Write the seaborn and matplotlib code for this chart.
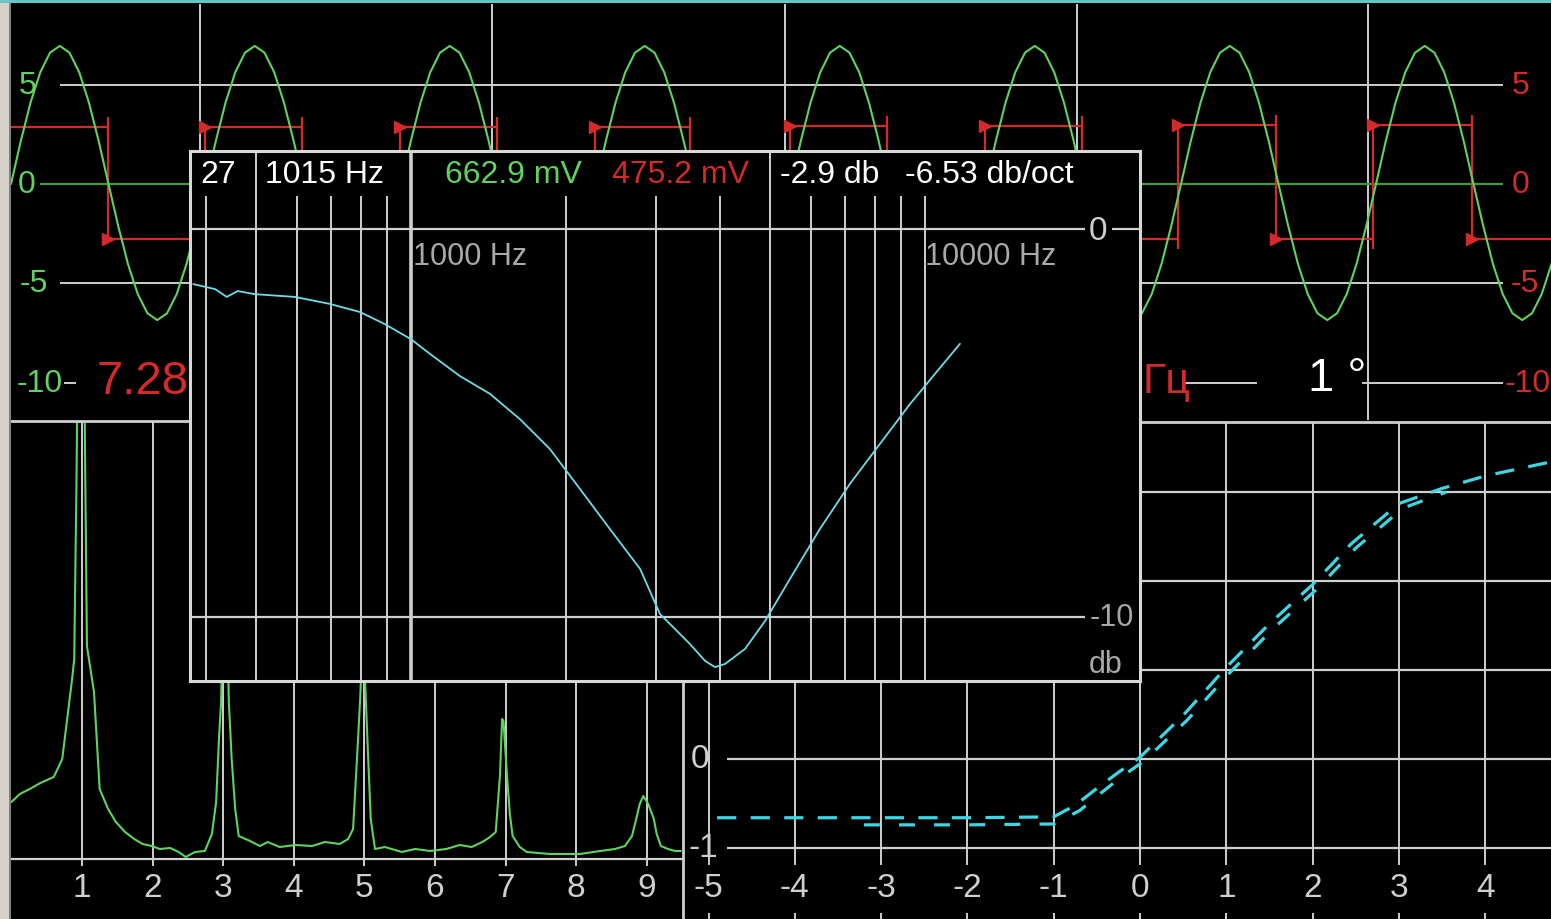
import numpy as np
import matplotlib
matplotlib.use("Agg")
import matplotlib.pyplot as plt
from matplotlib.ticker import NullLocator
from matplotlib.patches import Rectangle
import seaborn as sns

sns.set_theme(style="dark")
plt.rcParams['font.family'] = ['Liberation Sans', 'DejaVu Sans']

W, H = 1551, 920

# ---------------- data ----------------
# oscilloscope (volts, time in screen samples)
scope_time_grid = [190, 482, 775, 1067, 1358]
scope_volt_levels = [5, 0, -5, -10]
sine_rise_t = [1, 196, 391, 586, 781, 976, 1171, 1366, 1561]
sine_cycle_v = [0.0, 2.15, 4.09, 5.62, 6.61, 6.95, 6.61, 5.62, 4.09, 2.15,
                0.0, -2.12, -4.03, -5.54, -6.51, -6.85, -6.51, -5.54, -4.03, -2.12]
red_edges_t = [0, 98, 195, 292, 390, 487, 585, 680, 780, 877, 975, 1072,
               1168, 1266, 1363, 1462, 1541]
red_levels_v = [2.85, -2.75, 2.85, -2.75, 2.85, -2.75, 2.85, -2.75,
                2.9, -2.75, 2.9, -2.75, 2.95, -2.75, 2.95, -2.75]
scope_left_labels = ["5", "0", "-5", "-10"]
scope_right_labels = ["5", "0", "-5", "-10"]
scope_amp_text = "7.28"
scope_freq_value = "1015"
scope_freq_unit = "Гц"
scope_phase_text = "1 °"

# spectrum (harmonic number, level)
spec_h = [0.00, 0.12, 0.26, 0.41, 0.60, 0.72, 0.79, 0.86, 0.89, 0.92, 0.94, 1.03,
          1.07, 1.17, 1.25, 1.37, 1.48, 1.61, 1.74, 1.86, 1.99, 2.10, 2.25, 2.37,
          2.47, 2.60, 2.74, 2.84, 2.90, 2.94, 2.97, 3.00, 3.05, 3.08, 3.12, 3.17,
          3.22, 3.38, 3.52, 3.63, 3.80, 4.02, 4.26, 4.44, 4.65, 4.77, 4.84, 4.90,
          4.94, 4.98, 5.02, 5.05, 5.09, 5.15, 5.29, 5.53, 5.72, 5.93, 6.16, 6.35,
          6.52, 6.67, 6.78, 6.86, 6.92, 6.95, 6.97, 7.02, 7.06, 7.10, 7.20, 7.30,
          7.63, 8.05, 8.34, 8.55, 8.69, 8.79, 8.85, 8.90, 8.95, 9.02, 9.10, 9.14,
          9.20, 9.30, 9.40, 9.48]
spec_lvl = [0.57, 0.65, 0.70, 0.76, 0.82, 1.00, 1.40, 1.80, 2.00, 3.67, 5.00, 5.00,
            2.13, 1.67, 0.70, 0.50, 0.37, 0.27, 0.20, 0.15, 0.13, 0.10, 0.11, 0.07,
            0.02, 0.07, 0.08, 0.25, 0.57, 1.20, 1.57, 2.60, 2.60, 1.57, 1.00, 0.50,
            0.23, 0.18, 0.13, 0.17, 0.12, 0.14, 0.13, 0.17, 0.15, 0.20, 0.30, 1.07,
            1.60, 2.30, 1.60, 1.07, 0.40, 0.10, 0.12, 0.07, 0.10, 0.08, 0.10, 0.14,
            0.12, 0.17, 0.22, 0.27, 0.83, 1.40, 1.38, 0.83, 0.45, 0.23, 0.12, 0.07,
            0.05, 0.05, 0.08, 0.10, 0.13, 0.23, 0.40, 0.55, 0.63, 0.55, 0.40, 0.25,
            0.13, 0.10, 0.08, 0.08]
spec_ticks = [1, 2, 3, 4, 5, 6, 7, 8, 9]

# XY transfer curve
xy_fwd_x = [-4.90, -4.00, -3.00, -2.00, -1.00, -0.75, -0.50, -0.25, 0.00, 0.50,
            1.00, 1.50, 2.00, 2.45, 3.00, 3.50, 4.00, 4.72]
xy_fwd_y = [-0.66, -0.66, -0.66, -0.66, -0.65, -0.52, -0.33, -0.15, 0.02, 0.49,
            1.03, 1.52, 1.96, 2.42, 2.87, 3.04, 3.18, 3.33]
xy_ret_x = [-3.20, -2.00, -1.00, -0.70, -0.45, -0.20, 0.05, 0.55, 1.05, 1.55,
            2.05, 2.50, 3.05, 3.55]
xy_ret_y = [-0.74, -0.74, -0.73, -0.58, -0.38, -0.19, -0.02, 0.44, 0.98, 1.47,
            1.91, 2.37, 2.82, 3.00]
xy_ticks_x = [-5, -4, -3, -2, -1, 0, 1, 2, 3, 4]
xy_levels_y = [-1, 0, 1, 2, 3]

# Bode plot (Hz, dB)
bode_f = [377, 416, 438, 460, 497, 594, 695, 796, 889, 1000, 1089, 1245, 1425,
          1629, 1863, 2132, 2437, 2791, 3050, 3491, 3733, 3902, 4083, 4467, 4886,
          5460, 6245, 7142, 8170, 9352, 10447, 11695]
bode_db = [-1.42, -1.55, -1.75, -1.60, -1.68, -1.75, -1.93, -2.14, -2.45, -2.84,
           -3.22, -3.79, -4.25, -4.90, -5.67, -6.70, -7.73, -8.76, -9.92, -10.70,
           -11.13, -11.29, -11.21, -10.82, -10.10, -9.02, -7.73, -6.57, -5.54,
           -4.51, -3.74, -2.96]
bode_minor_f = [400, 600, 700, 800, 900, 2000, 3000, 4000, 6000, 7000, 8000, 9000, 10000]
bode_sep_f = [500, 1000, 5000]
bode_header = ["27", "1015 Hz", "662.9 mV", "475.2 mV", "-2.9 db", "-6.53 db/oct"]

# ---------------- style ----------------
BG = 'black'
GRID = '#cfcfcf'
GREEN = '#5fd35f'
DKGREEN = '#3f9a3f'
RED = '#d42a2a'
CYAN = '#6ddde6'
CYAN2 = '#3fd6e4'
TXT_GRAY = '#a9a9a9'

fig = plt.figure(figsize=(W / 100, H / 100), dpi=100, facecolor=BG)


def px_axes(x0, y0, x1, y1, z=0):
    ax = fig.add_axes([x0 / W, 1 - y1 / H, (x1 - x0) / W, (y1 - y0) / H])
    ax.set_facecolor(BG)
    ax.grid(False)
    for s in ax.spines.values():
        s.set_visible(False)
    ax.set_zorder(z)
    return ax


def clean(ax):
    ax.xaxis.set_major_locator(NullLocator())
    ax.xaxis.set_minor_locator(NullLocator())
    ax.yaxis.set_major_locator(NullLocator())
    ax.yaxis.set_minor_locator(NullLocator())
    ax.set_xlabel('')
    ax.set_ylabel('')


# ---------------- scope ----------------
ax_s = px_axes(10, 5, 1551, 421, z=1)
PXV = (383 - 85) / 15.0
ax_s.set_xlim(0, 1541)
ax_s.set_ylim((185 - 421) / PXV, (185 - 5) / PXV)
ax_s.vlines(scope_time_grid, (185 - 421) / PXV, (185 - 5) / PXV, color=GRID, lw=1.4)
ax_s.hlines(5, 50, 1493, color=GRID, lw=1.4)
ax_s.hlines(0, 30, 1493, color=DKGREEN, lw=1.6)
ax_s.hlines(-5, 50, 1493, color=GRID, lw=1.4)
for a, b in [(54, 66), (1173, 1247), (1352, 1493)]:
    ax_s.hlines(-10, a, b, color=GRID, lw=1.4)

# red square wave
rt, rv = [], []
for i, lv in enumerate(red_levels_v):
    rt += [red_edges_t[i], red_edges_t[i + 1]]
    rv += [lv, lv]
sns.lineplot(x=rt, y=rv, ax=ax_s, color=RED, lw=1.6, sort=False, estimator=None)
ax_s.plot(red_edges_t[1:-1], red_levels_v[1:], ls='none', marker='>', ms=8, color=RED)
ax_s.plot(red_edges_t[1:-1], red_levels_v[:-1], ls='none', marker='|', ms=14, mew=1.6, color=RED)

# green sine
st, sv = [], []
n = len(sine_cycle_v)
for i in range(len(sine_rise_t) - 1):
    t0, t1 = sine_rise_t[i], sine_rise_t[i + 1]
    for k, v in enumerate(sine_cycle_v):
        st.append(t0 + (t1 - t0) * k / n)
        sv.append(v)
st.append(sine_rise_t[-1]); sv.append(sine_cycle_v[0])
sns.lineplot(x=st, y=sv, ax=ax_s, color=GREEN, lw=1.5, sort=False, estimator=None)

for lab, lv, px in zip(scope_left_labels, scope_volt_levels, [28, 27, 34, 40]):
    ax_s.text(px - 10, lv, lab, color=GREEN, fontsize=23, ha='center', va='center')
for lab, lv, px in zip(scope_right_labels, scope_volt_levels, [1521, 1521, 1525, 1528]):
    ax_s.text(px - 10, lv, lab, color=RED, fontsize=23, ha='center', va='center')
ax_s.text(97 - 10, -9.9, scope_amp_text, color=RED, fontsize=34, ha='left', va='center')
ax_s.text(1128 - 10, -9.9, scope_freq_value, color=RED, fontsize=32, ha='right', va='center')
ax_s.text(1143 - 10, -9.9, scope_freq_unit, color=RED, fontsize=31, ha='left', va='center')
ax_s.text(1308 - 10, -9.75, scope_phase_text, color='white', fontsize=34, ha='left', va='center')
clean(ax_s)

# ---------------- spectrum ----------------
ax_f = px_axes(10, 422, 683, 920, z=1)
HX = 70.6
ax_f.set_xlim(1 + (10 - 82) / HX, 1 + (683 - 82) / HX)
ax_f.set_ylim(-0.60, 4.38)
ax_f.vlines(spec_ticks, -0.07, 4.38, color=GRID, lw=1.4)
ax_f.hlines(0, 1 + (10 - 82) / HX, 1 + (683 - 82) / HX, color=GRID, lw=1.6)
sns.lineplot(x=spec_h, y=spec_lvl, ax=ax_f, color=GREEN, lw=1.5, sort=False, estimator=None)
for h in spec_ticks:
    ax_f.text(h, -0.29, str(h), color=GRID, fontsize=24, ha='center', va='center')
ax_f.spines['top'].set_visible(True)
ax_f.spines['top'].set_color(GRID)
ax_f.spines['top'].set_linewidth(2)
clean(ax_f)

# ---------------- XY ----------------
ax_x = px_axes(683, 423, 1551, 920, z=1)
XU, YU = 86.3, 89.0
ax_x.set_xlim((683 - 1140) / XU, (1551 - 1140) / XU)
ax_x.set_ylim((760 - 920) / YU, (760 - 423) / YU)
ax_x.vlines(xy_ticks_x, -1.19, 3.79, color=GRID, lw=1.4)
ax_x.vlines(xy_ticks_x, -1.73, -1.80, color=GRID, lw=1.4)
ax_x.hlines(xy_levels_y, -4.79, 4.77, color=GRID, lw=1.6)
sns.lineplot(x=xy_fwd_x, y=xy_fwd_y, ax=ax_x, color=CYAN2, lw=2.3, sort=False,
             estimator=None)
ax_x.lines[-1].set_dashes((6, 4.5))
sns.lineplot(x=xy_ret_x, y=xy_ret_y, ax=ax_x, color=CYAN2, lw=2.3, sort=False,
             estimator=None)
ax_x.lines[-1].set_dashes((5, 6))
for v in xy_ticks_x:
    ax_x.text(v, -1.44, str(v), color=GRID, fontsize=24, ha='center', va='center')
ax_x.text(-5.10, 0, "0", color=GRID, fontsize=24, ha='center', va='center')
ax_x.text(-5.06, -1.0, "-1", color=GRID, fontsize=24, ha='center', va='center')
for s in ['top', 'left']:
    ax_x.spines[s].set_visible(True)
    ax_x.spines[s].set_color(GRID)
    ax_x.spines[s].set_linewidth(2)
clean(ax_x)

# ---------------- Bode inset ----------------
ax_b = px_axes(190, 152, 1140, 682, z=5)
ax_b.set_xscale('log')
ax_b.set_xlim(371.6, 26198)
ax_b.set_ylim(-11.649, 2.010)
ax_b.vlines(bode_minor_f, -11.649, 0.85, color=GRID, lw=1.4)
ax_b.vlines(bode_sep_f, -11.649, 2.010, color=GRID, lw=[1.4, 2.6, 1.4])
ax_b.hlines([0, -10], 371.6, 20470, color=GRID, lw=1.6)
ax_b.hlines(0, 23120, 26198, color=GRID, lw=1.6)
sns.lineplot(x=bode_f, y=bode_db, ax=ax_b, color=CYAN, lw=1.3, sort=False, estimator=None)
ax_b.text((1098 - 190) / 950, (682 - 232) / 530, "0", transform=ax_b.transAxes,
          color=GRID, fontsize=24, ha='center', va='center')
ax_b.text((1112 - 190) / 950, (682 - 618) / 530, "-10", transform=ax_b.transAxes,
          color=TXT_GRAY, fontsize=22, ha='center', va='center')
ax_b.text((1106 - 190) / 950, (682 - 665) / 530, "db", transform=ax_b.transAxes,
          color=TXT_GRAY, fontsize=22, ha='center', va='center')
ax_b.text((413 - 190) / 950, (682 - 257) / 530, "1000 Hz", transform=ax_b.transAxes,
          color=TXT_GRAY, fontsize=22, ha='left', va='center')
ax_b.text((925 - 190) / 950, (682 - 257) / 530, "10000 Hz", transform=ax_b.transAxes,
          color=TXT_GRAY, fontsize=22, ha='left', va='center')
hdr_x = [200, 265, 445, 612, 780, 905]
hdr_c = ['white', 'white', GREEN, RED, 'white', 'white']
for txt, px, c in zip(bode_header, hdr_x, hdr_c):
    ax_b.text((px - 190) / 950, (682 - 175) / 530, txt, transform=ax_b.transAxes,
              color=c, fontsize=23, ha='left', va='center')
for s in ax_b.spines.values():
    s.set_visible(True)
    s.set_color('#d8d8d8')
    s.set_linewidth(2.2)
clean(ax_b)

# window frame
fig.add_artist(Rectangle((0, 0), 9 / W, 1, transform=fig.transFigure,
                         facecolor='#d6d2ca', edgecolor='none', zorder=10))
fig.add_artist(Rectangle((9 / W, 0), 1.5 / W, 1, transform=fig.transFigure,
                         facecolor='#808080', edgecolor='none', zorder=10))
fig.add_artist(Rectangle((0, 1 - 4 / H), 1, 4 / H, transform=fig.transFigure,
                         facecolor='#66c6c2', edgecolor='none', zorder=10))

fig.savefig("out.png", dpi=100, facecolor=BG)
